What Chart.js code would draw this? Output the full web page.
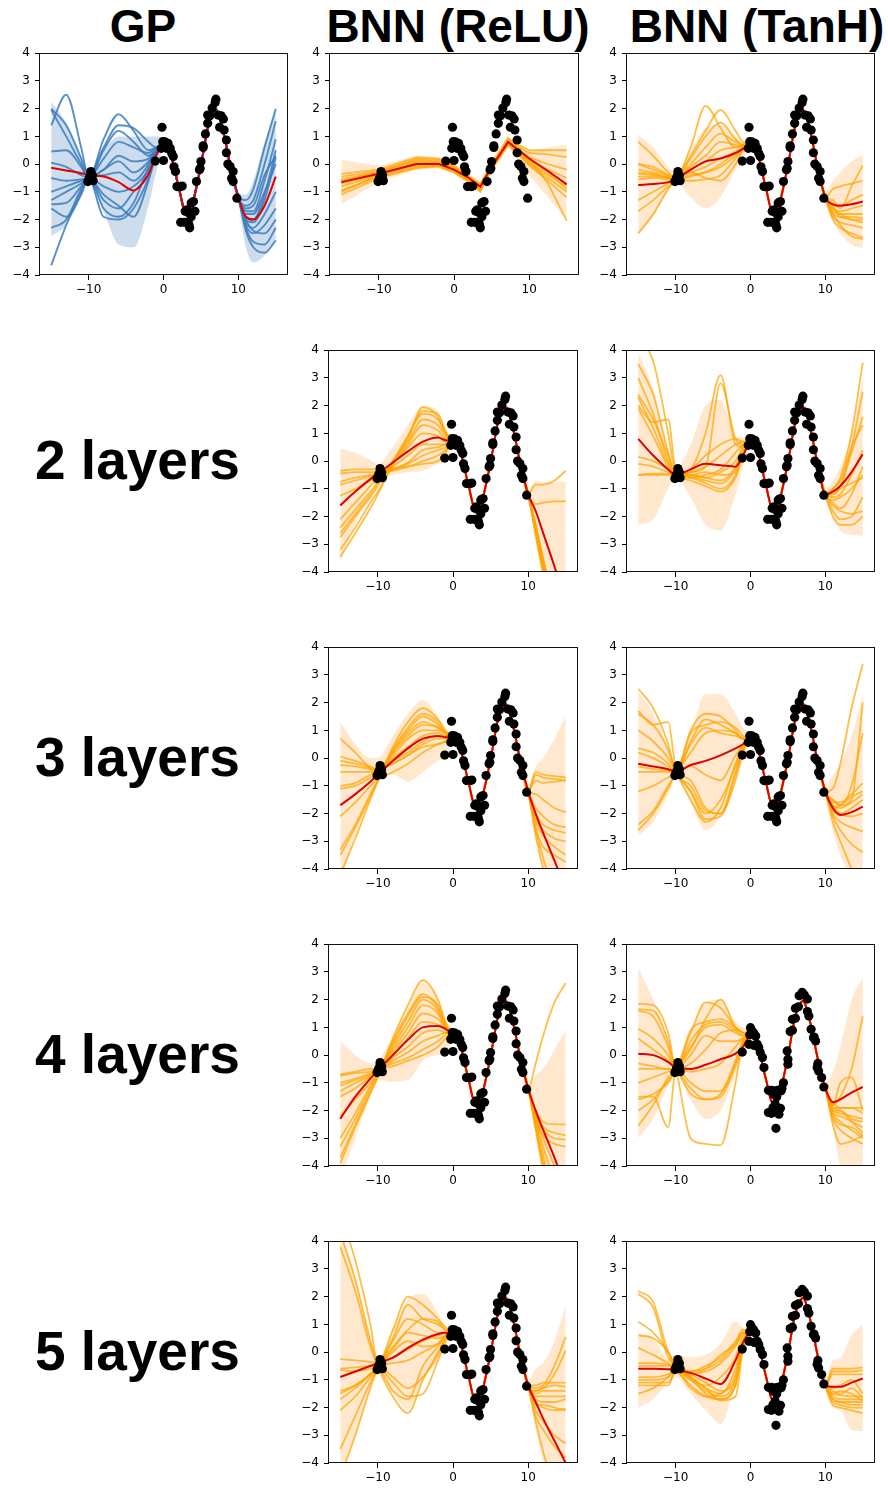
<!DOCTYPE html>
<html>
<head>
<meta charset="utf-8">
<script src="https://cdn.jsdelivr.net/npm/chart.js@4.4.1/dist/chart.umd.min.js"></script>
<style>
  body { margin: 0; background: #fff; }
  #page { position: relative; width: 888px; height: 1488px; overflow: hidden; background: #fff; }
  .lbl { position: absolute; font-family: 'Liberation Sans', Arial, sans-serif; font-weight: bold; color: #000; white-space: nowrap; }
  .head { font-size: 46px; line-height: 46px; top: 3px; width: 400px; text-align: center; }
  .row { font-size: 55px; line-height: 55px; left: 35px; }
</style>
</head>
<body>
<div id="page">
  <div class="lbl head" style="left:-57px">GP</div>
  <div class="lbl head" style="left:258px">BNN (ReLU)</div>
  <div class="lbl head" style="left:557px">BNN (TanH)</div>
  <div class="lbl row" style="top:433px">2 layers</div>
  <div class="lbl row" style="top:730px">3 layers</div>
  <div class="lbl row" style="top:1027px">4 layers</div>
  <div class="lbl row" style="top:1324px">5 layers</div>
</div>
<script>
// x grids: curves are read at LEFT_X and RIGHT_X, the data region uses the shared fit
const LEFT_X = [-15, -13, -11, -10, -8, -6, -4, -2, -1];
const FIT_X = [0, 1, 2, 3, 3.5, 4, 5, 6, 7, 8, 9, 10];
const RIGHT_X = [11, 12, 13.5, 15];
const FIT_Y = [0.7, 0.3, -0.8, -1.75, -1.75, -1.3, -0.05, 1.4, 1.95, 1.15, -0.15, -1.2];
const FIT_HI = [0.9, 0.45, -0.65, -1.6, -1.6, -1.15, 0.1, 1.55, 2.1, 1.3, 0.0, -1.0];
const FIT_LO = [0.5, 0.15, -0.95, -1.9, -1.9, -1.45, -0.2, 1.25, 1.8, 1.0, -0.3, -1.4];

const X_TICKS = [-10, 0, 10];

// observed points (first data set: GP, ReLU column, TanH rows 1-3)
const DATA1_X = [-10.1, -9.9, -9.8, -9.7, -9.6, -9.4, -9.5, -1.1, -0.2, -0.1, -0.3, 0, 0.2, 0.4, 0.6, 0.9, 1.1, 1.3, 1.4, 1.6,
  1.8, 2.3, 2.5, 2.3, 2.8, 2.9, 3.1, 3.3, 3.3, 3.5, 3.4, 3.7, 3.7, 4.0, 4.2, 4.4, 4.8, 4.9, 5.0, 5.3,
  5.3, 5.6, 5.9, 5.9, 6.2, 6.5, 6.9, 7.0, 7.3, 7.7, 8.0, 7.5, 8.1, 8.4, 8.4, 8.6, 8.9, 9.3, 9.1, 9.3, 9.8];
const DATA1_Y = [-0.63, -0.5, -0.45, -0.27, -0.55, -0.6, -0.4, 0.11, 1.33, 0.81, 0.57, 0.13, 0.8, 0.57, 0.75, 0.57, 0.39, 0.27, -0.1, -0.27,
  -0.81, -0.81, -0.79, -2.1, -2.1, -1.7, -1.65, -1.75, -2.1, -2.3, -2.2, -1.9, -1.4, -1.35, -1.7, -0.63, -0.2, -0.15, 0.09, 0.66,
  0.6, 1.09, 1.47, 1.77, 1.74, 2.02, 2.22, 2.34, 1.77, 1.74, 1.63, 1.33, 1.23, 0.87, 0.41, 0.0, -0.09, -0.27, -0.51, -0.63, -1.23];

// second data set (TanH rows 4-5)
const DATA2_X = [-10.1, -9.9, -9.8, -9.7, -9.6, -9.4, -9.5, -1.1, -0.1, 0, 0.2, -0.2, 0.4, 0.7, 0.9, 1.1, 1.3, 1.6, 1.8, 2.4,
  2.8, 2.4, 2.8, 3.1, 3.3, 3.4, 3.6, 3.8, 4.0, 4.1, 4.4, 4.9, 5.0, 5.0, 5.3, 5.6, 5.6, 6.0, 6.0, 6.4,
  6.5, 6.9, 7.2, 7.6, 7.6, 7.8, 8.1, 8.4, 8.7, 8.9, 9.1, 9.5, 9.8, 3.2, 3.5, 4.2, 3.0, 8.5, 9.0, 0.5];
const DATA2_Y = [-0.63, -0.5, -0.45, -0.27, -0.55, -0.6, -0.4, 0.11, 0.73, 0.99, 0.87, 0.39, 0.81, 0.69, 0.39, 0.27, 0.09, -0.09, -0.45, -1.27,
  -1.27, -2.07, -2.1, -1.41, -1.77, -2.64, -1.27, -2.13, -1.92, -1.29, -1.0, 0.15, -0.15, -0.33, 0.85, 0.9, 1.29, 1.33, 1.69, 1.74,
  2.14, 2.26, 2.17, 2.02, 1.57, 1.41, 0.93, 0.63, 0.51, -0.45, -0.57, -0.81, -1.15, -1.3, -1.5, -1.2, -1.9, 0.65, -0.3, 0.35];

// each row below: 9 values at LEFT_X then 4 values at RIGHT_X
const gpMean = [-0.13, -0.23, -0.33, -0.4, -0.45, -0.65, -0.95, -0.35, 0.3, -1.9, -2.0, -1.5, -0.45];
const gpHi = [2.25, 1.5, 0.3, -0.3, 0.5, 1.0, 1.0, 1.0, 1.0, -1.1, -0.6, 0.8, 2.0];
const gpLo = [-2.6, -2.2, -1.2, -0.55, -1.7, -2.9, -3.0, -1.5, -0.3, -3.0, -3.55, -3.3, -2.7];
const gpSamples = [
  [2.0, 1.4, 0.2, -0.5, 0.9, 1.8, 1.2, 0.5, 0.6, -1.3, -0.9, 0.6, 2.0],
  [1.4, 2.5, 0.6, -0.45, 0.6, 1.4, 1.3, 0.8, 0.6, -1.5, -1.3, 0.0, 1.55],
  [0.45, 0.5, -0.1, -0.5, 0.5, 1.2, 0.8, 0.3, 0.5, -1.7, -1.7, -0.6, 0.9],
  [0.05, -0.1, -0.4, -0.5, 0.2, 0.8, 0.6, 0.4, 0.6, -1.9, -2.0, -1.1, 0.5],
  [-0.5, -0.6, -0.55, -0.5, -0.2, 0.3, 0.1, 0.2, 0.5, -2.0, -2.1, -1.3, 0.25],
  [-1.3, -1.0, -0.7, -0.5, -0.4, -0.3, -0.6, 0.0, 0.5, -1.8, -1.8, -1.0, 0.0],
  [-1.45, -1.4, -0.8, -0.5, -0.8, -1.0, -0.8, -0.2, 0.4, -2.1, -2.3, -1.8, -1.0],
  [-1.6, -1.9, -1.1, -0.5, -1.3, -1.6, -1.0, -0.4, 0.3, -2.2, -2.5, -2.2, -1.6],
  [-2.3, -2.0, -0.9, -0.5, -1.9, -2.0, -1.6, -0.5, 0.3, -2.3, -2.8, -2.9, -2.3],
  [-3.65, -2.2, -1.0, -0.5, -1.6, -1.9, -1.4, -0.1, 0.4, -2.4, -3.0, -3.2, -2.75],
  [1.95, 1.0, 0.0, -0.5, -0.2, 0.1, -0.3, 0.1, 0.5, -1.6, -1.5, -0.4, 0.3],
  [-1.0, -0.8, -0.6, -0.5, -1.1, -1.5, -1.9, -0.6, 0.3, -2.0, -2.4, -2.5, -2.0]
];

// one-layer ReLU net does not follow the data: own grid, straight segments
const RELU1_X = [-15, -10, -5, -2, 0, 2, 3.5, 5, 7.2, 10, 12.5, 15];
const relu1Mean = [-0.65, -0.35, 0.0, 0.0, -0.2, -0.5, -0.82, -0.1, 0.8, 0.2, -0.25, -0.73];
const relu1Hi = [0.15, -0.05, 0.3, 0.25, 0.0, -0.35, -0.6, 0.15, 0.95, 0.45, 0.6, 0.7];
const relu1Lo = [-1.45, -0.65, -0.2, -0.15, -0.35, -0.7, -1.05, -0.3, 0.6, -0.4, -1.2, -2.0];
const relu1Samples = [
  [-0.35, -0.2, 0.25, 0.2, -0.05, -0.45, -0.7, -0.1, 0.9, 0.5, 0.5, 0.5],
  [-0.45, -0.25, 0.15, 0.1, -0.1, -0.5, -0.75, -0.05, 0.85, 0.4, 0.35, 0.25],
  [-0.55, -0.3, 0.1, 0.05, -0.15, -0.5, -0.8, -0.1, 0.8, 0.25, 0.0, -0.2],
  [-0.7, -0.35, 0.0, 0.0, -0.2, -0.55, -0.85, -0.05, 0.75, 0.15, -0.2, -0.5],
  [-0.8, -0.4, -0.05, -0.05, -0.25, -0.6, -0.9, -0.15, 0.7, 0.05, -0.4, -0.8],
  [-0.95, -0.45, -0.1, -0.1, -0.3, -0.65, -0.95, -0.2, 0.7, 0.0, -0.5, -1.0],
  [-1.1, -0.5, -0.15, -0.05, -0.25, -0.6, -1.0, -0.1, 0.75, -0.05, -0.6, -1.2],
  [-0.6, -0.3, 0.2, 0.15, -0.1, -0.5, -0.8, 0.0, 0.95, 0.2, -0.7, -2.05],
  [-1.0, -0.4, 0.05, 0.05, -0.2, -0.55, -0.9, -0.1, 0.8, 0.1, -0.3, -0.9]
];

const tanh1Mean = [-0.75, -0.72, -0.65, -0.55, -0.2, 0.1, 0.2, 0.4, 0.55, -1.45, -1.5, -1.45, -1.35];
const tanh1Hi = [1.05, 0.6, -0.1, -0.3, 0.5, 1.3, 1.4, 1.0, 0.8, -0.6, -0.3, 0.1, 0.35];
const tanh1Lo = [-2.55, -1.9, -1.0, -0.65, -1.2, -1.6, -1.2, -0.2, 0.2, -2.0, -2.5, -2.9, -3.05];
const tanh1Samples = [
  [0.8, 0.3, -0.3, -0.5, 0.6, 2.1, 1.3, 0.6, 0.7, -1.3, -1.6, -0.8, -0.05],
  [0.0, -0.2, -0.4, -0.5, 0.3, 1.2, 1.95, 1.2, 0.8, -0.9, -0.8, -0.7, -0.6],
  [-0.2, -0.3, -0.45, -0.5, 0.2, 1.0, 1.5, 0.9, 0.7, -1.4, -1.5, -1.3, -1.1],
  [-0.35, -0.4, -0.5, -0.55, 0.0, 0.6, 1.1, 0.8, 0.7, -1.6, -1.7, -1.6, -1.5],
  [-0.45, -0.45, -0.5, -0.55, -0.2, 0.1, 0.5, 0.6, 0.65, -1.7, -1.8, -1.8, -1.8],
  [-0.55, -0.5, -0.55, -0.55, -0.4, -0.3, 0.0, 0.4, 0.6, -1.8, -1.9, -2.0, -2.0],
  [-1.3, -1.0, -0.7, -0.55, -0.6, -0.55, -0.4, 0.2, 0.5, -1.9, -2.1, -2.2, -2.3],
  [-1.7, -1.3, -0.8, -0.6, -0.45, -0.3, -0.1, 0.3, 0.55, -2.0, -2.3, -2.5, -2.65],
  [-2.5, -1.8, -0.9, -0.6, -0.3, -0.1, 0.2, 0.45, 0.6, -1.8, -2.2, -2.6, -2.7],
  [-0.3, -0.35, -0.5, -0.55, -0.1, 0.3, 0.8, 0.7, 0.65, -1.5, -1.9, -1.9, -1.95],
  [0.0, -0.1, -0.4, -0.5, -0.3, -0.5, -0.6, 0.0, 0.5, -1.6, -1.8, -2.0, -2.1]
];

const relu2Mean = [-1.6, -1.1, -0.65, -0.45, -0.05, 0.35, 0.7, 0.85, 0.75, -1.8, -2.6, -3.8, -5.1];
const relu2Hi = [0.45, 0.3, 0.05, -0.1, 0.5, 1.3, 2.0, 1.8, 1.1, -0.7, -0.75, -0.75, -0.75];
const relu2Lo = [-3.6, -2.3, -0.95, -0.65, -0.5, -0.4, -0.35, -0.1, 0.0, -2.6, -3.8, -5.2, -6.5];
const relu2Samples = [
  [-3.45, -2.6, -1.7, -1.2, -0.1, 0.9, 1.8, 1.7, 1.1, -0.85, -0.85, -0.7, -0.35],
  [-3.2, -2.4, -1.5, -1.1, -0.1, 0.8, 1.95, 1.6, 1.0, -1.55, -1.5, -1.45, -1.45],
  [-2.75, -2.0, -1.3, -0.9, 0.0, 0.9, 1.7, 1.5, 1.0, -2.5, -3.9, -6.0, -8.0],
  [-2.6, -1.9, -1.2, -0.8, 0.0, 0.7, 1.5, 1.3, 0.9, -2.4, -3.7, -5.6, -7.5],
  [-2.4, -1.75, -1.1, -0.75, -0.1, 0.6, 1.3, 1.1, 0.8, -2.6, -4.0, -6.1, -8.2],
  [-2.1, -1.5, -0.9, -0.65, -0.1, 0.5, 1.0, 0.9, 0.7, -2.3, -3.5, -5.2, -7.0],
  [-1.25, -1.0, -0.7, -0.55, -0.2, 0.2, 0.6, 0.6, 0.6, -2.5, -3.8, -5.7, -7.6],
  [-0.85, -0.7, -0.55, -0.5, -0.3, -0.05, 0.4, 0.5, 0.6, -2.4, -3.6, -5.4, -7.2],
  [-0.75, -0.6, -0.5, -0.45, -0.3, -0.1, 0.2, 0.4, 0.5, -2.7, -4.1, -6.2, -8.3],
  [-0.45, -0.4, -0.4, -0.4, -0.35, -0.2, 0.0, 0.2, 0.4, -2.3, -3.6, -5.4, -7.2],
  [-0.35, -0.3, -0.3, -0.3, -0.25, -0.2, -0.1, 0.0, 0.3, -2.45, -3.8, -5.6, -7.5]
];

const tanh2Mean = [0.8, 0.2, -0.3, -0.5, -0.3, -0.1, -0.15, -0.2, 0.2, -1.1, -0.9, -0.4, 0.25];
const tanh2Hi = [3.9, 2.6, 0.5, -0.3, 0.6, 2.0, 2.2, 0.9, 0.85, -0.7, -0.2, 1.0, 3.0];
const tanh2Lo = [-2.3, -2.1, -1.0, -0.6, -1.3, -2.3, -2.5, -1.2, -0.2, -2.0, -2.5, -2.65, -2.7];
const tanh2Samples = [
  [4.5, 3.6, 1.0, -0.4, -0.5, -0.4, -0.5, -0.4, 0.2, -1.0, -0.6, 1.0, 3.55],
  [3.5, 2.4, 0.3, -0.5, -0.3, 1.0, 3.1, 0.6, 0.5, -1.1, -0.9, 0.5, 2.5],
  [3.0, 1.7, 0.0, -0.5, -0.4, -0.2, 2.8, 0.8, 0.6, -1.2, -0.9, 0.3, 1.6],
  [2.4, 1.5, 0.2, -0.5, -0.6, -0.8, -1.0, -0.5, 0.3, -1.0, -0.7, 0.5, 1.3],
  [2.3, 1.2, -0.1, -0.5, -0.7, -0.9, -1.1, -0.6, 0.2, -1.3, -1.2, -0.5, 0.4],
  [2.0, 1.4, 1.5, -0.3, -0.6, -0.5, -0.3, 0.3, 0.6, -1.5, -1.7, -1.2, -0.2],
  [1.9, 0.9, -0.2, -0.5, -0.3, 0.2, 0.6, 0.8, 0.7, -1.4, -1.3, -1.0, -0.5],
  [0.15, 0.0, -0.3, -0.5, -0.5, -0.6, -0.7, -0.2, 0.4, -1.2, -1.0, -0.8, -0.6],
  [-0.1, -0.2, -0.4, -0.5, -0.4, -0.2, 0.2, 0.6, 0.7, -1.8, -2.1, -2.0, -1.3],
  [-0.5, -0.5, -0.5, -0.5, -0.5, -0.6, -0.4, 0.0, 0.5, -1.6, -1.8, -1.9, -1.8],
  [-0.5, -0.45, -0.45, -0.5, -0.55, -0.7, -0.8, -0.3, 0.3, -2.0, -2.3, -2.3, -2.0]
];

const relu3Mean = [-1.7, -1.3, -0.85, -0.6, -0.1, 0.35, 0.7, 0.8, 0.75, -2.0, -2.7, -3.7, -4.7];
const relu3Hi = [1.3, 0.5, 0.0, 0.0, 0.8, 1.6, 2.1, 1.5, 1.0, -0.3, 0.0, 0.7, 1.5];
const relu3Lo = [-4.5, -2.8, -1.4, -0.85, -0.6, -0.85, -0.5, -0.1, 0.0, -2.8, -4.0, -5.5, -7.0];
const relu3Samples = [
  [0.7, 0.2, -0.4, -0.7, -0.5, -0.2, 0.2, 0.5, 0.6, -0.5, -0.6, -0.65, -0.7],
  [0.05, -0.1, -0.3, -0.4, -0.2, 0.1, 0.4, 0.5, 0.6, -0.6, -0.7, -0.75, -0.8],
  [-0.1, -0.2, -0.35, -0.4, -0.2, 0.1, 0.5, 0.7, 0.7, -0.8, -0.9, -0.85, -0.8],
  [-0.25, -0.3, -0.4, -0.45, -0.1, 0.2, 0.6, 0.8, 0.8, -1.3, -1.5, -1.8, -1.95],
  [-0.5, -0.5, -0.5, -0.5, 0.0, 0.4, 0.8, 0.9, 0.8, -1.8, -2.1, -2.4, -2.5],
  [-1.0, -0.9, -0.6, -0.5, 0.1, 0.7, 1.0, 1.0, 0.9, -2.0, -2.4, -2.6, -2.7],
  [-1.1, -1.0, -0.7, -0.55, 0.2, 0.8, 1.2, 1.1, 0.9, -2.2, -2.6, -2.9, -3.0],
  [-2.1, -1.6, -1.0, -0.7, 0.3, 1.0, 1.5, 1.2, 0.9, -2.3, -2.8, -3.2, -3.5],
  [-3.3, -2.4, -1.3, -0.8, 0.4, 1.3, 1.8, 1.4, 1.0, -2.5, -3.2, -3.5, -3.75],
  [-3.5, -2.5, -1.4, -0.8, 0.2, 0.9, 1.3, 1.1, 0.9, -2.6, -3.6, -5.0, -6.5],
  [-4.2, -2.9, -1.5, -0.85, 0.3, 1.1, 1.6, 1.3, 0.9, -2.8, -4.0, -5.5, -7.0]
];

const tanh3Mean = [-0.2, -0.3, -0.4, -0.5, -0.25, -0.1, 0.1, 0.35, 0.5, -1.8, -2.05, -1.95, -1.75];
const tanh3Hi = [2.4, 1.6, 0.4, -0.3, 0.9, 2.3, 2.3, 1.6, 1.1, -0.6, -0.2, 0.8, 2.3];
const tanh3Lo = [-2.8, -2.3, -1.3, -0.7, -1.6, -2.6, -2.1, -0.7, -0.1, -2.6, -3.5, -4.3, -4.5];
const tanh3Samples = [
  [2.5, 1.8, 0.5, -0.5, -1.0, -1.9, -2.0, -0.5, 0.3, -1.1, -0.2, 1.8, 3.4],
  [1.7, 1.2, 1.3, -0.3, -0.8, -1.8, -2.0, -0.8, 0.2, -1.5, -1.7, -1.5, 2.0],
  [1.6, 1.2, 0.3, -0.5, -1.2, -2.2, -2.1, -0.6, 0.4, -1.5, -1.7, -1.0, 0.9],
  [1.0, 0.6, 0.0, -0.5, -1.5, -2.3, -1.8, -0.2, 0.5, -1.6, -1.6, -1.3, -0.9],
  [0.35, 0.2, -0.2, -0.5, 0.6, 1.4, 1.2, 0.9, 0.7, -1.8, -1.7, -1.4, -1.2],
  [0.2, 0.0, -0.3, -0.5, 1.0, 1.6, 1.5, 1.0, 0.7, -1.9, -2.0, -1.8, -1.5],
  [-0.3, -0.4, -0.45, -0.5, 0.9, 1.2, 1.3, 1.1, 0.8, -1.7, -2.0, -2.1, -2.0],
  [-0.5, -0.5, -0.5, -0.5, 0.5, 1.1, 0.9, 0.8, 0.7, -2.0, -2.3, -2.5, -2.65],
  [-1.2, -1.0, -0.7, -0.6, -0.3, -0.6, -0.8, 0.1, 0.5, -2.1, -2.6, -3.1, -3.4],
  [-2.4, -1.9, -1.0, -0.6, 0.2, 0.9, 1.0, 0.9, 0.7, -2.3, -3.0, -4.0, -5.0],
  [-2.6, -2.0, -1.1, -0.65, -1.2, -2.0, -1.5, -0.3, 0.4, -1.7, -1.8, -1.6, -1.3]
];

const relu4Mean = [-2.3, -1.5, -0.85, -0.55, 0.0, 0.55, 1.0, 1.05, 0.95, -2.0, -2.7, -3.7, -4.8];
const relu4Hi = [0.5, 0.0, -0.3, -0.2, 0.7, 1.7, 2.6, 2.0, 1.3, -0.7, -0.5, 0.2, 0.9];
const relu4Lo = [-4.5, -3.0, -1.5, -0.9, -0.95, -0.9, -0.2, 0.0, 0.05, -2.8, -4.0, -5.5, -7.0];
const relu4Samples = [
  [-3.9, -2.6, -1.4, -0.8, 0.6, 1.8, 2.7, 2.0, 1.2, -0.3, 0.7, 1.9, 2.6],
  [-3.7, -2.5, -1.3, -0.75, 0.5, 1.5, 2.2, 1.7, 1.1, -2.0, -2.4, -2.5, -2.5],
  [-3.3, -2.3, -1.2, -0.7, 0.4, 1.4, 2.1, 1.8, 1.1, -2.1, -2.6, -2.8, -2.9],
  [-3.0, -2.1, -1.1, -0.7, 0.3, 1.2, 2.0, 1.6, 1.0, -2.2, -2.7, -3.0, -3.05],
  [-2.2, -1.6, -1.0, -0.65, 0.2, 1.0, 1.8, 1.5, 1.0, -2.3, -2.9, -3.2, -3.3],
  [-1.5, -1.2, -0.8, -0.6, 0.1, 0.8, 1.5, 1.3, 1.0, -2.5, -3.8, -5.5, -7.0],
  [-1.3, -1.0, -0.75, -0.6, 0.0, 0.6, 1.2, 1.1, 0.9, -2.6, -4.0, -5.8, -7.5],
  [-1.1, -0.9, -0.7, -0.55, -0.1, 0.3, 0.8, 0.9, 0.8, -2.4, -3.6, -5.2, -6.8],
  [-1.0, -0.85, -0.65, -0.55, -0.2, 0.1, 0.5, 0.7, 0.8, -2.7, -4.2, -6.0, -8.0],
  [-0.75, -0.65, -0.6, -0.5, -0.3, -0.1, 0.2, 0.5, 0.7, -2.3, -3.3, -4.6, -6.0],
  [-0.7, -0.6, -0.5, -0.5, -0.4, -0.2, 0.0, 0.3, 0.6, -2.2, -3.0, -4.0, -5.0]
];

const tanh4Mean = [0.05, 0.0, -0.25, -0.45, -0.5, -0.35, -0.15, 0.05, 0.3, -1.7, -1.6, -1.35, -1.15];
const tanh4Hi = [3.15, 2.0, 0.6, -0.4, 0.8, 1.9, 2.0, 1.2, 1.0, -0.6, 0.3, 2.0, 2.8];
const tanh4Lo = [-3.0, -2.3, -1.1, -0.65, -1.6, -2.3, -2.0, -0.7, 0.0, -2.6, -4.0, -4.5, -4.5];
const tanh4Samples = [
  [1.85, 1.8, 0.8, -0.4, 0.2, 1.3, 2.0, 1.0, 0.8, -1.8, -1.5, -0.5, 1.4],
  [1.65, 1.6, 0.5, -0.4, 0.8, 1.9, 1.7, 1.0, 0.8, -1.8, -1.0, -0.8, -2.0],
  [1.6, 1.4, 0.3, -0.45, 0.9, 1.2, 1.3, 1.0, 0.8, -1.9, -1.9, -1.9, -1.9],
  [0.95, 0.6, 0.0, -0.5, 0.5, 1.1, 1.2, 0.9, 0.7, -2.0, -2.1, -2.2, -2.3],
  [0.6, 0.2, -0.2, -0.5, -3.0, -3.2, -3.25, -1.0, 0.5, -2.1, -2.2, -2.4, -2.6],
  [-0.3, -0.4, -0.5, -0.5, -0.3, 0.2, 0.8, 0.9, 0.8, -2.2, -2.5, -2.6, -2.9],
  [-0.5, -0.5, -0.5, -0.5, -0.6, -0.5, -0.3, 0.3, 0.6, -2.3, -2.7, -3.0, -3.2],
  [-1.0, -0.8, -0.6, -0.5, -1.0, -1.3, -1.3, -0.3, 0.4, -2.5, -3.2, -3.1, -2.9],
  [-1.5, -1.5, -2.6, -0.6, -1.2, -1.6, -1.4, -0.2, 0.5, -2.0, -2.0, -2.3, -2.4],
  [-1.6, -1.4, -1.0, -0.6, -1.4, -1.6, -1.5, -0.4, 0.4, -1.7, -1.9, -1.9, -2.1],
  [-2.0, -1.6, -0.9, -0.6, 0.0, 0.7, 0.5, 0.5, 0.6, -2.1, -2.4, -2.7, -3.0],
  [-2.55, -1.8, -0.8, -0.55, 0.3, 1.0, 1.1, 0.8, 0.7, -1.9, -2.0, -2.4, -2.8]
];

const relu5Mean = [-0.9, -0.7, -0.5, -0.4, -0.2, 0.15, 0.45, 0.65, 0.7, -1.8, -2.4, -3.2, -4.0];
const relu5Hi = [4.5, 2.7, 0.6, -0.3, 0.8, 1.9, 2.1, 1.4, 0.9, -0.6, -0.4, 0.4, 1.7];
const relu5Lo = [-4.5, -3.0, -1.3, -0.8, -1.5, -2.05, -1.0, -0.3, 0.1, -2.8, -4.0, -5.5, -6.5];
const relu5Samples = [
  [5.0, 3.3, 1.0, -0.4, 0.8, 2.0, 1.7, 1.2, 0.9, -1.3, -1.2, -0.5, 0.55],
  [3.8, 2.2, 0.2, -0.4, 0.5, 1.7, 1.2, 1.0, 0.8, -1.4, -1.3, -0.8, 0.05],
  [4.3, 2.6, 0.4, -0.5, -1.6, -2.2, -1.0, 0.0, 0.5, -1.2, -1.1, -1.1, -1.1],
  [-0.25, -0.3, -0.35, -0.4, 0.2, 0.8, 1.2, 1.1, 0.8, -1.4, -1.3, -1.2, -1.25],
  [-0.6, -0.55, -0.5, -0.45, -0.2, 0.1, 0.4, 0.6, 0.7, -1.5, -1.4, -1.4, -1.4],
  [-0.65, -0.7, -0.6, -0.5, -0.4, -0.3, 0.0, 0.3, 0.6, -1.6, -1.6, -1.6, -1.6],
  [-1.4, -1.2, -0.8, -0.5, -0.9, -1.3, -0.9, -0.1, 0.5, -1.7, -1.8, -1.8, -1.7],
  [-1.5, -1.2, -0.8, -0.5, 0.4, 1.2, 1.0, 0.7, 0.7, -1.8, -2.0, -2.1, -2.05],
  [-1.7, -1.3, -0.8, -0.55, -1.1, -1.6, -1.5, -0.3, 0.4, -1.9, -1.9, -2.0, -2.1],
  [-2.1, -1.6, -0.9, -0.55, 0.1, 0.7, 0.6, 0.5, 0.6, -2.1, -2.5, -3.0, -3.3],
  [-3.5, -2.3, -1.1, -0.6, -1.4, -1.7, -0.5, 0.2, 0.6, -2.3, -2.8, -3.4, -3.8],
  [-4.5, -3.0, -1.3, -0.6, 0.0, 0.4, 0.2, 0.3, 0.6, -2.5, -3.6, -5.0, -6.5]
];

const tanh5Mean = [-0.6, -0.6, -0.62, -0.65, -0.75, -0.95, -1.15, -0.3, 0.35, -1.25, -1.25, -1.1, -0.95];
const tanh5Hi = [0.7, 0.5, -0.2, -0.1, -0.2, -0.1, 0.3, 1.1, 0.9, -0.3, -0.2, 0.6, 1.0];
const tanh5Lo = [-2.0, -1.7, -1.1, -0.9, -1.5, -2.1, -2.6, -1.0, 0.0, -2.0, -2.1, -2.8, -2.85];
const tanh5Samples = [
  [2.2, 1.8, 0.0, -0.5, -0.9, -1.3, -1.5, -0.6, 0.3, -0.6, -0.6, -0.6, -0.55],
  [2.1, 1.6, -0.2, -0.5, -0.7, -0.6, -0.3, 0.3, 0.7, -0.7, -0.7, -0.7, -0.65],
  [1.1, 0.7, 0.0, -0.5, -0.9, -1.5, -1.7, -1.2, 0.3, -0.8, -0.8, -0.8, -0.8],
  [0.6, 0.5, 0.0, -0.5, -0.8, -0.6, -0.1, 0.3, 0.7, -1.3, -1.2, -1.0, -1.5],
  [0.15, -0.1, -0.4, -0.55, -1.0, -1.4, -1.6, -1.0, 0.4, -1.5, -1.55, -1.6, -1.6],
  [-0.4, -0.4, -0.45, -0.5, -0.7, -0.5, -0.2, 0.4, 0.8, -1.6, -1.7, -1.7, -1.7],
  [-0.5, -0.5, -0.5, -0.55, -0.8, -1.1, -1.4, -1.0, 0.2, -1.7, -1.8, -1.8, -1.8],
  [-0.9, -0.9, -0.8, -0.65, -0.8, -0.7, -0.4, 0.2, 0.7, -1.8, -1.9, -2.0, -2.0],
  [-1.0, -1.0, -0.9, -0.7, -1.2, -1.6, -1.7, -1.2, 0.2, -1.9, -2.0, -2.1, -2.2],
  [-1.1, -1.1, -1.1, -0.7, -1.3, -1.6, -1.5, -0.8, 0.4, -1.4, -1.5, -1.3, -1.65],
  [-1.2, -1.2, -1.2, -0.7, -1.0, -1.2, -0.9, -0.2, 0.6, -1.5, -1.4, -1.5, -1.75],
  [-1.5, -1.3, -0.9, -0.6, -0.9, -1.3, -1.75, -1.6, 0.1, -1.7, -1.8, -1.9, -1.9]
];

// panel boxes (plot area) in page pixels
const PANEL_H = 222;
const AXIS_W = 40, AXIS_H = 26, PAD_T = 10, PAD_R = 8;
const panels = [
  { left: 40, top: 53, w: 247, kind: 'gp', mean: gpMean, hi: gpHi, lo: gpLo, samples: gpSamples, data: 1 },
  { left: 330, top: 53, w: 248, kind: 'relu1', data: 1 },
  { left: 627, top: 53, w: 247, kind: 'bnn', mean: tanh1Mean, hi: tanh1Hi, lo: tanh1Lo, samples: tanh1Samples, data: 1 },
  { left: 329, top: 350, w: 248, kind: 'bnn', mean: relu2Mean, hi: relu2Hi, lo: relu2Lo, samples: relu2Samples, data: 1 },
  { left: 627, top: 350, w: 247, kind: 'bnn', mean: tanh2Mean, hi: tanh2Hi, lo: tanh2Lo, samples: tanh2Samples, data: 1 },
  { left: 329, top: 647, w: 248, kind: 'bnn', mean: relu3Mean, hi: relu3Hi, lo: relu3Lo, samples: relu3Samples, data: 1 },
  { left: 627, top: 647, w: 247, kind: 'bnn', mean: tanh3Mean, hi: tanh3Hi, lo: tanh3Lo, samples: tanh3Samples, data: 1 },
  { left: 329, top: 944, w: 248, kind: 'bnn', mean: relu4Mean, hi: relu4Hi, lo: relu4Lo, samples: relu4Samples, data: 1 },
  { left: 627, top: 944, w: 247, kind: 'bnn', mean: tanh4Mean, hi: tanh4Hi, lo: tanh4Lo, samples: tanh4Samples, data: 2 },
  { left: 329, top: 1241, w: 248, kind: 'bnn', mean: relu5Mean, hi: relu5Hi, lo: relu5Lo, samples: relu5Samples, data: 1 },
  { left: 627, top: 1241, w: 247, kind: 'bnn', mean: tanh5Mean, hi: tanh5Hi, lo: tanh5Lo, samples: tanh5Samples, data: 2 }
];

Chart.defaults.font.family = "'DejaVu Sans', sans-serif";
Chart.defaults.font.size = 12;
Chart.defaults.color = '#000';

function pts(xs, ys) {
  return xs.map((x, i) => ({ x, y: ys[i] }));
}

function through(vals, mid) {
  return pts(LEFT_X, vals.slice(0, 9)).concat(pts(FIT_X, mid), pts(RIGHT_X, vals.slice(9)));
}

function minusLabel(v) {
  return v < 0 ? '\u2212' + Math.abs(v) : String(v);
}

const framePlugin = {
  id: 'frame',
  afterDraw(chart) {
    const { ctx, chartArea: a } = chart;
    ctx.save();
    ctx.strokeStyle = '#111';
    ctx.lineWidth = 1;
    ctx.strokeRect(Math.round(a.left) - 0.5, Math.round(a.top) + 0.5,
      Math.round(a.right - a.left) + 1, Math.round(a.bottom - a.top) - 1);
    ctx.restore();
  }
};

function buildDatasets(p) {
  const gp = p.kind === 'gp';
  const lineColor = gp ? 'rgba(60,125,190,0.85)' : 'rgba(255,165,0,0.72)';
  const lineWidth = gp ? 1.9 : 1.8;
  const bandColor = gp ? 'rgba(70,130,190,0.27)' : 'rgba(255,150,30,0.22)';
  const curve = p.kind === 'relu1' ? { tension: 0 } : { cubicInterpolationMode: 'monotone' };
  const dx = p.data === 2 ? DATA2_X : DATA1_X;
  const dy = p.data === 2 ? DATA2_Y : DATA1_Y;

  let meanPts, hiPts, loPts, samplePts;
  if (p.kind === 'relu1') {
    meanPts = pts(RELU1_X, relu1Mean);
    hiPts = pts(RELU1_X, relu1Hi);
    loPts = pts(RELU1_X, relu1Lo);
    samplePts = relu1Samples.map(s => pts(RELU1_X, s));
  } else {
    meanPts = through(p.mean, FIT_Y);
    hiPts = through(p.hi, FIT_HI);
    loPts = through(p.lo, FIT_LO);
    samplePts = p.samples.map(s => through(s, FIT_Y));
  }

  const base = { pointRadius: 0, pointHoverRadius: 0, clip: 0 };
  return [
    { data: pts(dx, dy), showLine: false, pointRadius: 4.6, pointHoverRadius: 4.6,
      pointBackgroundColor: '#000', pointBorderWidth: 0, order: 0 },
    { ...base, ...curve, data: meanPts, borderColor: '#e00000', borderWidth: 2, fill: false, order: 1 },
    ...samplePts.map(d => ({ ...base, ...curve, data: d, borderColor: lineColor, borderWidth: lineWidth, fill: false, order: 2 })),
    { ...base, ...curve, data: hiPts, borderColor: 'rgba(0,0,0,0)', borderWidth: 0, backgroundColor: bandColor, fill: '+1', order: 3 },
    { ...base, ...curve, data: loPts, borderColor: 'rgba(0,0,0,0)', borderWidth: 0, fill: false, order: 3 }
  ];
}

function panelOptions() {
  return {
    responsive: false,
    maintainAspectRatio: false,
    animation: false,
    devicePixelRatio: 1,
    events: [],
    layout: { padding: { top: PAD_T, right: PAD_R, left: 0, bottom: 0 } },
    plugins: { legend: { display: false }, tooltip: { enabled: false } },
    scales: {
      x: {
        type: 'linear', min: -16.5, max: 16.5,
        afterBuildTicks(axis) { axis.ticks = X_TICKS.map(v => ({ value: v })); },
        afterFit(axis) { axis.height = AXIS_H; },
        border: { display: false },
        grid: { drawOnChartArea: false, tickLength: 5, color: '#000', lineWidth: 1 },
        ticks: { padding: 3, maxRotation: 0, autoSkip: false, callback: minusLabel }
      },
      y: {
        type: 'linear', min: -4, max: 4,
        afterFit(axis) { axis.width = AXIS_W; },
        border: { display: false },
        grid: { drawOnChartArea: false, tickLength: 5, color: '#000', lineWidth: 1 },
        ticks: { stepSize: 1, padding: 5, autoSkip: false, callback: minusLabel }
      }
    }
  };
}

const page = document.getElementById('page');
panels.forEach(p => {
  const W = p.w + AXIS_W + PAD_R;
  const H = PANEL_H + PAD_T + AXIS_H;
  const canvas = document.createElement('canvas');
  canvas.width = W;
  canvas.height = H;
  canvas.style.cssText = `position:absolute;left:${p.left - AXIS_W}px;top:${p.top - PAD_T}px;width:${W}px;height:${H}px`;
  page.appendChild(canvas);
  const chart = new Chart(canvas.getContext('2d'), {
    type: 'line',
    data: { datasets: buildDatasets(p) },
    options: panelOptions(),
    plugins: [framePlugin]
  });
  // grow the canvas until the plot area has the intended size, then place it
  const a = chart.chartArea;
  const dw = Math.round(p.w - (a.right - a.left));
  const dh = Math.round(PANEL_H - (a.bottom - a.top));
  if (dw || dh) chart.resize(W + dw, H + dh);
  const b = chart.chartArea;
  canvas.style.left = Math.round(p.left - b.left) + 'px';
  canvas.style.top = Math.round(p.top - b.top) + 'px';
});
</script>
</body>
</html>
